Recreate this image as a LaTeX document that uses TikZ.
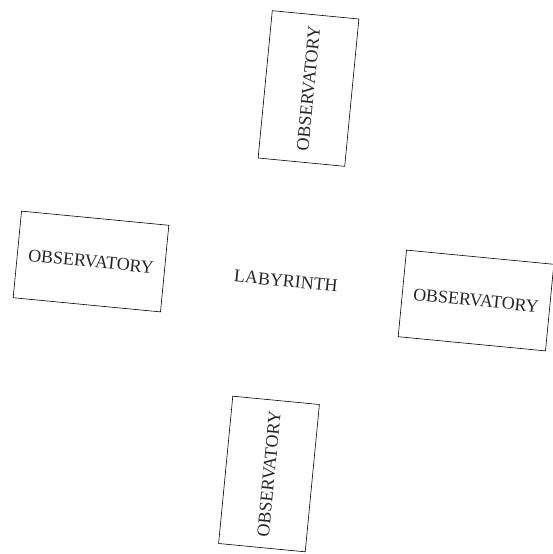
\documentclass[tikz,border=0pt]{standalone}
\usepackage{fontspec}
\setmainfont{Liberation Serif}
\begin{document}
\begin{tikzpicture}[x=1pt,y=-1pt,
  roomlabel/.style={font=\fontsize{18}{21}\selectfont, text=black!85, inner sep=0pt},
  obsbox/.style={roomlabel, draw=black, line width=0.6pt,
    minimum width=148pt, minimum height=87pt}]
  \useasboundingbox (0,0) rectangle (553,554);
  % central hall
  \node[roomlabel, rotate=-5.5] (lab) at (286,281) {LABYRINTH};
  % four observatories around it
  \node[obsbox, rotate=84.5] (obsN) at (308.5,88.5) {OBSERVATORY};
  \node[obsbox, rotate=-5.5] (obsW) at (91,261.5) {OBSERVATORY};
  \node[obsbox, rotate=-5.5] (obsE) at (476,300.5) {OBSERVATORY};
  \node[obsbox, rotate=84.5] (obsS) at (269,474) {OBSERVATORY};
\end{tikzpicture}
\end{document}
